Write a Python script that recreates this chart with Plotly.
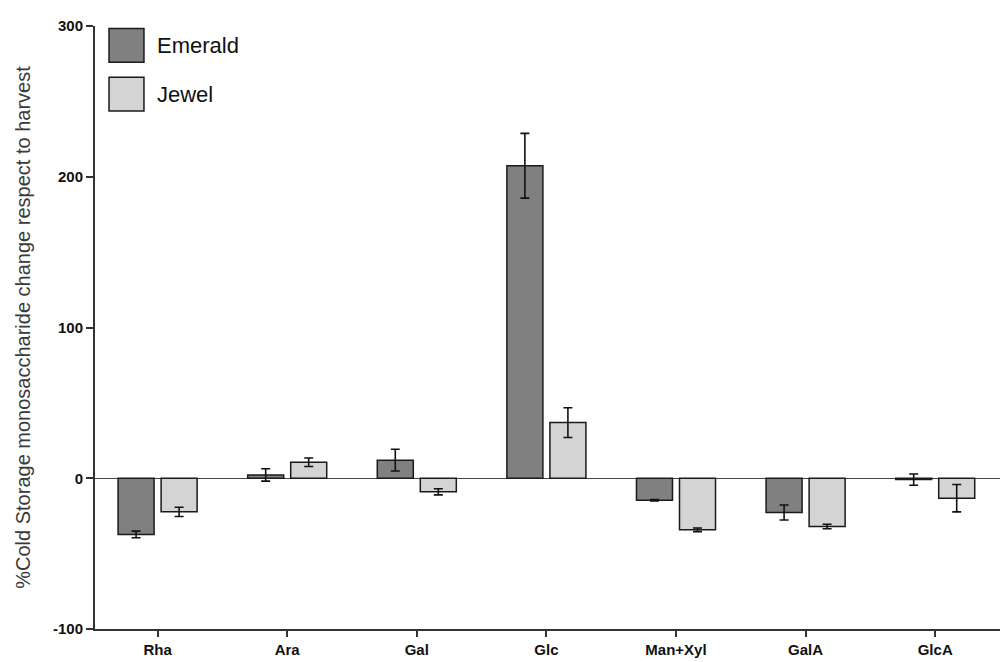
import plotly.graph_objects as go

categories = ["Rha", "Ara", "Gal", "Glc", "Man+Xyl", "GalA", "GlcA"]
emerald = [-37.3, 2.2, 12.0, 207.3, -14.6, -22.7, -0.9]
emerald_err = [2.2, 4.1, 7.2, 21.5, 0.4, 5.0, 3.7]
jewel = [-22.3, 10.6, -9.0, 36.9, -34.2, -32.0, -13.2]
jewel_err = [3.1, 2.8, 2.0, 9.9, 1.2, 1.5, 9.1]
series_names = ["Emerald", "Jewel"]
series_colors = ["#808080", "#d4d4d4"]
y_ticks = [-100, 0, 100, 200, 300]
y_ticktext = ["-100", "0", "100", "200", "300"]

FONT = "Liberation Sans, Arial, sans-serif"

fig = go.Figure()
for name, vals, errs, col in [
    (series_names[0], emerald, emerald_err, series_colors[0]),
    (series_names[1], jewel, jewel_err, series_colors[1]),
]:
    fig.add_trace(go.Bar(
        x=categories, y=vals, name=name,
        marker=dict(color=col, line=dict(color="#1a1a1a", width=1.5)),
        error_y=dict(type="data", array=errs, visible=True,
                     color="#111111", thickness=1.6, width=4.5),
        showlegend=False,
    ))

# Legend drawn as shapes + text (large swatches like the reference)
legend_items = [(0.996, 0.940, 0.968), (0.915, 0.859, 0.887)]
for (y0, y1, ym), name, col in zip(legend_items, series_names, series_colors):
    fig.add_shape(type="rect", xref="paper", yref="paper",
                  x0=0.0155, x1=0.0541, y0=y1, y1=y0,
                  fillcolor=col, line=dict(color="#1a1a1a", width=1.5))
    fig.add_annotation(xref="paper", yref="paper", x=0.0663, y=ym,
                       text=name, showarrow=False, xanchor="left", yanchor="middle",
                       font=dict(family=FONT, size=22, color="#111111"))

fig.update_layout(
    width=1000, height=662,
    margin=dict(l=95, r=0, t=26, b=33),
    paper_bgcolor="white", plot_bgcolor="white",
    barmode="group", bargap=0.336, bargroupgap=0.163,
    font=dict(family=FONT, color="#111111"),
)
fig.update_xaxes(
    range=[-0.483, 6.5], showline=True, linecolor="#333333", linewidth=2,
    ticks="outside", ticklen=6, tickwidth=1.5, tickcolor="#333333",
    tickfont=dict(family=FONT, size=15, color="#111111", weight="bold"),
    showgrid=False, zeroline=False, automargin=False,
)
fig.update_yaxes(
    range=[-100, 300], tickvals=y_ticks, ticktext=y_ticktext,
    showline=True, linecolor="#333333", linewidth=2,
    ticks="outside", ticklen=7, tickwidth=1.5, tickcolor="#333333",
    tickfont=dict(family=FONT, size=15, color="#111111", weight="bold"),
    showgrid=False, zeroline=True, zerolinecolor="#444444", zerolinewidth=1,
    title=dict(text="%Cold Storage monosaccharide change respect to harvest",
               font=dict(family=FONT, size=20, color="#3a3a3a"), standoff=17),
    automargin=False,
)

fig.write_html("out.html", config={"displayModeBar": False},
               post_script="document.body.style.margin='0';document.body.style.overflow='hidden';")
